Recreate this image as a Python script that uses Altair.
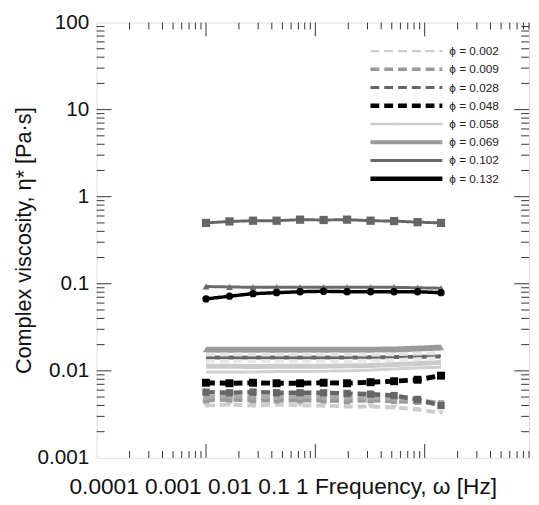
import altair as alt
import pandas as pd

# ---------------- data ----------------
freq = [0.01, 0.0164, 0.0269, 0.0442, 0.0725, 0.119, 0.195, 0.32, 0.525, 0.861, 1.41]

phi_values = ["0.002", "0.009", "0.028", "0.048", "0.058", "0.069", "0.102", "0.132"]

eta_002 = [0.0040, 0.0041, 0.0040, 0.0041, 0.0040, 0.0040, 0.0039, 0.0039, 0.0038, 0.0036, 0.0033]
eta_009 = [0.0046, 0.0047, 0.0046, 0.0046, 0.0046, 0.0046, 0.0045, 0.0046, 0.0045, 0.0044, 0.0042]
eta_028 = [0.0057, 0.0056, 0.0057, 0.0056, 0.0056, 0.0056, 0.0055, 0.0054, 0.0052, 0.0047, 0.0040]
eta_048 = [0.0073, 0.0072, 0.0073, 0.0072, 0.0072, 0.0073, 0.0072, 0.0074, 0.0076, 0.0079, 0.0088]
eta_058 = [0.0113, 0.0113, 0.0112, 0.0113, 0.0113, 0.0113, 0.0114, 0.0115, 0.0118, 0.0121, 0.0125]
eta_069 = [0.0175, 0.0175, 0.0175, 0.0175, 0.0175, 0.0175, 0.0175, 0.0175, 0.0176, 0.0180, 0.0185]
eta_102 = [0.093, 0.092, 0.091, 0.091, 0.091, 0.091, 0.091, 0.091, 0.091, 0.090, 0.089]
eta_132 = [0.067, 0.072, 0.077, 0.079, 0.081, 0.082, 0.081, 0.081, 0.081, 0.081, 0.079]

# further curves drawn in the figure without a legend entry
eta_x1 = [0.50, 0.52, 0.53, 0.53, 0.545, 0.54, 0.545, 0.53, 0.525, 0.51, 0.50]
eta_x2 = [0.0142, 0.0142, 0.0142, 0.0142, 0.0142, 0.0142, 0.0142, 0.0143, 0.0144, 0.0145, 0.0146]
eta_x3 = [0.0154, 0.0154, 0.0154, 0.0154, 0.0154, 0.0154, 0.0154, 0.0154, 0.0155, 0.0158, 0.0160]
eta_x4 = [0.0129, 0.0129, 0.0129, 0.0129, 0.0129, 0.0129, 0.0130, 0.0131, 0.0133, 0.0136, 0.0139]
eta_x5 = [0.0097, 0.0097, 0.0097, 0.0098, 0.0098, 0.0099, 0.0100, 0.0102, 0.0105, 0.0108, 0.0110]
eta_x6 = [0.0050, 0.0051, 0.0050, 0.0050, 0.0050, 0.0050, 0.0049, 0.0049, 0.0048, 0.0046, 0.0043]

y_tick_values = [0.001, 0.01, 0.1, 1, 10, 100]
x_tick_labels = ["0.0001", "0.001", "0.01", "0.1", "1"]
x_title_text = "Frequency, ω [Hz]"
y_title_text = "Complex viscosity, η* [Pa·s]"

# ---------------- styles ----------------
legend_keys = ["ϕ = " + p for p in phi_values]
# key: (values, colour, dash, width, shape, marker size) ; list order = drawing order
series = [
    ("x1", eta_x1, "#666666", [1, 0], 3.0, "square", 70),
    ("x2", eta_x2, "#666666", [1, 0], 4.0, "square", 0),
    (legend_keys[5], eta_069, "#9a9a9a", [1, 0], 6.0, "triangle-up", 40),
    (legend_keys[6], eta_102, "#6a6a6a", [1, 0], 3.0, "triangle-up", 50),
    (legend_keys[7], eta_132, "#000000", [1, 0], 3.5, "circle", 55),
    ("x3", eta_x3, "#e4e4e4", [9, 5], 4.0, "square", 0),
    (legend_keys[4], eta_058, "#cccccc", [1, 0], 5.0, "circle", 0),
    ("x4", eta_x4, "#e8e8e8", [9, 5], 4.0, "square", 0),
    ("x5", eta_x5, "#d0d0d0", [1, 0], 3.0, "square", 0),
    (legend_keys[0], eta_002, "#cccccc", [9, 5], 4.0, "triangle-down", 35),
    (legend_keys[1], eta_009, "#999999", [9, 5], 4.5, "square", 40),
    ("x6", eta_x6, "#aaaaaa", [9, 5], 4.0, "square", 30),
    (legend_keys[2], eta_028, "#666666", [9, 5], 4.5, "square", 55),
    (legend_keys[3], eta_048, "#000000", [9, 5], 5.0, "square", 65),
]
# legend symbol widths (as drawn in the reference key)
legend_widths = {legend_keys[0]: 2.5, legend_keys[1]: 3.5, legend_keys[2]: 3.0,
                 legend_keys[3]: 4.5, legend_keys[4]: 2.5, legend_keys[5]: 4.0,
                 legend_keys[6]: 3.0, legend_keys[7]: 4.5}

rows = []
for order, (key, vals, col, dash, w, shp, ps) in enumerate(series):
    for f, v in zip(freq, vals):
        rows.append({"key": key, "f": f, "eta": v,
                     "pcolor": col, "pshape": shp, "psize": ps})
df = pd.DataFrame(rows)
pts = df[df["psize"] > 0]
leg_df = pd.DataFrame({"key": legend_keys, "lw": [legend_widths[k] for k in legend_keys]})

keys = [s[0] for s in series]
colors = [s[2] for s in series]
dashes = [s[3] for s in series]
widths = [s[4] for s in series]

W, H = 439, 442
FONT = "Liberation Sans"

xs = alt.Scale(type="log", domain=[0.001, 9.0], nice=False)
ys = alt.Scale(type="log", domain=[0.001, 100], nice=False)
color_scale = alt.Scale(domain=keys, range=colors)
dash_scale = alt.Scale(domain=keys, range=dashes)

xaxis = alt.Axis(labels=False, ticks=False, domain=False, grid=False,
                 title=" ".join(x_tick_labels) + " " + x_title_text,
                 titleFont=FONT, titleFontSize=23, titleFontWeight="normal",
                 titleColor="#111111", titleX=189, titleY=36,
                 titleAlign="center", titleBaseline="alphabetic")
yaxis = alt.Axis(values=y_tick_values, format="~g", ticks=False, domain=False, grid=False,
                 labelFont=FONT, labelFontSize=21, labelColor="#111111", labelPadding=8,
                 title=y_title_text, titleFont=FONT, titleFontSize=22,
                 titleFontWeight="normal", titleColor="#111111",
                 titleX=-74, titleY=221, titleAngle=-90,
                 titleAlign="center", titleBaseline="middle")

lines = alt.Chart(df).mark_line().encode(
    x=alt.X("f:Q", scale=xs, axis=xaxis),
    y=alt.Y("eta:Q", scale=ys, axis=yaxis),
    color=alt.Color("key:N", scale=color_scale, legend=None),
    strokeDash=alt.StrokeDash("key:N", scale=dash_scale, legend=None),
    strokeWidth=alt.StrokeWidth("key:N", scale=alt.Scale(type="ordinal", domain=keys, range=widths), legend=None),
    order=alt.Order("f:Q"),
)

points = alt.Chart(pts).mark_point(filled=True, opacity=1).encode(
    x=alt.X("f:Q", scale=xs, axis=xaxis),
    y=alt.Y("eta:Q", scale=ys, axis=yaxis),
    color=alt.Color("pcolor:N", scale=None),
    shape=alt.Shape("pshape:N", scale=None),
    size=alt.Size("psize:Q", scale=None),
)

# inward ticks on all four sides
x_major = [0.01, 0.1, 1]
x_minor = [k * 10.0 ** n for n in range(-3, 1) for k in range(2, 10)]
y_major = [0.01, 0.1, 1, 10]
y_minor = [k * 10.0 ** n for n in range(-3, 2) for k in range(2, 10)]

tick_col = "#333333"
def xticks(vals, y0, y1):
    return alt.Chart(pd.DataFrame({"v": vals})).mark_rule(color=tick_col, strokeWidth=1).encode(
        x=alt.X("v:Q", scale=xs, axis=xaxis), y=alt.value(y0), y2=alt.value(y1))

def yticks(vals, x0, x1):
    return alt.Chart(pd.DataFrame({"v": vals})).mark_rule(color=tick_col, strokeWidth=1).encode(
        y=alt.Y("v:Q", scale=ys, axis=yaxis), x=alt.value(x0), x2=alt.value(x1))

ticks = [
    xticks(x_major, H, H - 14), xticks(x_minor, H, H - 7),
    xticks(x_major, 0, 14), xticks(x_minor, 0, 7),
    yticks(y_major, 0, 15), yticks(y_minor, 0, 8),
    yticks(y_major, W, W - 15), yticks(y_minor, W, W - 8),
]

main = alt.layer(lines, points, *ticks)

# key in the upper right corner, rows placed by a point scale
leg_y = alt.Y("key:N", scale=alt.Scale(type="point", domain=legend_keys, range=[29, 158.5], padding=0),
              axis=None)
leg_lines = alt.Chart(leg_df).mark_rule().encode(
    y=leg_y, x=alt.value(278), x2=alt.value(351),
    color=alt.Color("key:N", scale=color_scale, legend=None),
    strokeDash=alt.StrokeDash("key:N", scale=dash_scale, legend=None),
    strokeWidth=alt.StrokeWidth("lw:Q", scale=None),
)
leg_text = alt.Chart(leg_df).mark_text(align="left", baseline="middle", font=FONT,
                                       fontSize=12, color="#222222").encode(
    y=leg_y, x=alt.value(358), text="key:N")
legend = alt.layer(leg_lines, leg_text)

chart = alt.layer(main, legend).resolve_scale(y="independent").properties(
    width=W, height=H, autosize="none",
    padding={"left": 90, "top": 11, "right": 2, "bottom": 42},
).configure_view(stroke="#555555", strokeWidth=1.5).configure(background="white")

chart.save("out.html", embed_options={"renderer": "svg", "actions": False})
